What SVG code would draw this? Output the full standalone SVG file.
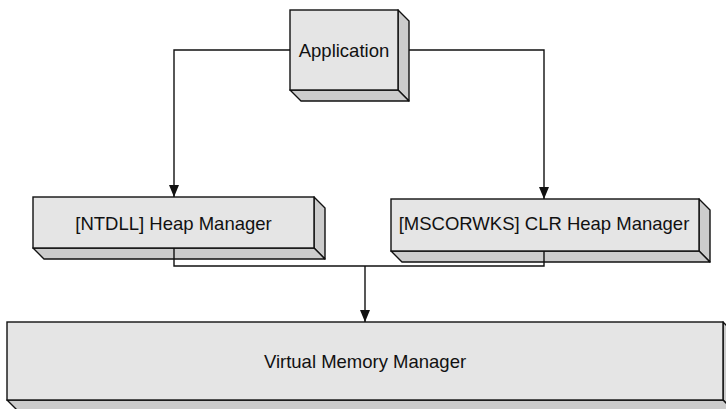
<svg xmlns="http://www.w3.org/2000/svg" width="726" height="409" viewBox="0 0 726 409">
<style>
.front{fill:#e5e5e5;stroke:#111;stroke-width:1.4}
.face{fill:#cccccc;stroke:#111;stroke-width:1.4;stroke-linejoin:round}
.lbl{font-family:"Liberation Sans",Arial,Helvetica,sans-serif;font-size:18.5px;fill:#111;text-anchor:middle}
.conn{fill:none;stroke:#111;stroke-width:1.4}
</style>
<defs>
<marker id="arr" viewBox="0 0 12 10" refX="12" refY="5" markerWidth="12" markerHeight="10" markerUnits="userSpaceOnUse" orient="auto">
<path d="M0,0 L12,5 L0,10 z" fill="#111"/>
</marker>
</defs>
<rect width="726" height="409" fill="#fff"/>
<g id="app">
<polygon class="face" points="398,10 409,21 409,101 398,90"/>
<polygon class="face" points="290,90 301,101 409,101 398,90"/>
<rect class="front" x="290" y="10" width="108" height="80"/>
<text class="lbl" x="344" y="56.5">Application</text>
</g>
<g id="ntdll">
<polygon class="face" points="314,197 325,208 325,259 314,248"/>
<polygon class="face" points="33,248 44,259 325,259 314,248"/>
<rect class="front" x="33" y="197" width="281" height="51"/>
<text class="lbl" x="173.5" y="229.5">[NTDLL] Heap Manager</text>
</g>
<g id="clr">
<polygon class="face" points="699,199 710,210 710,262 699,251"/>
<polygon class="face" points="391,251 402,262 710,262 699,251"/>
<rect class="front" x="391" y="199" width="308" height="52"/>
<text class="lbl" x="544" y="229.5">[MSCORWKS] CLR Heap Manager</text>
</g>
<g id="vmm">
<polygon class="face" points="723,322 734,333 734,411 723,400"/>
<polygon class="face" points="7,400 18,411 734,411 723,400"/>
<rect class="front" x="7" y="322" width="716" height="78"/>
<text class="lbl" x="365" y="368">Virtual Memory Manager</text>
</g>
<g id="connectors">
<path class="conn" d="M290,50 H174 V197" marker-end="url(#arr)"/>
<path class="conn" d="M409,50 H544 V199" marker-end="url(#arr)"/>
<path class="conn" d="M174,248 V266 H544 V251"/>
<path class="conn" d="M365,266 V322" marker-end="url(#arr)"/>
</g>
</svg>
